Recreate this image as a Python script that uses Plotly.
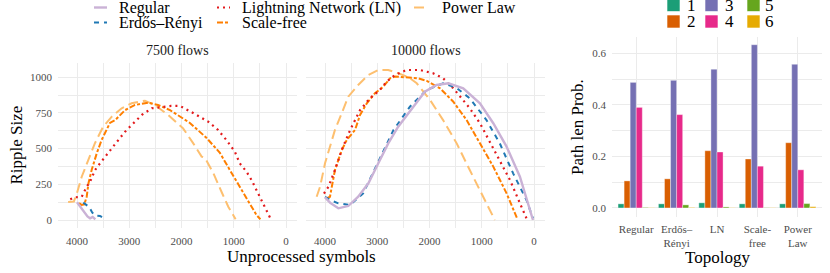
import plotly.graph_objects as go

FONT = "Liberation Serif, Tinos, Times New Roman, Times, serif"
W, H = 830, 273


def px(x):
    return x / W


def py(y):
    return 1 - y / H


# ---------------- data: ripple size vs unprocessed symbols ----------------
topologies = ["Regular", "Erdős–Rényi", "Lightning Network (LN)", "Scale-free", "Power Law"]
facets = ["7500 flows", "10000 flows"]

# 7500 flows
reg_7500_x = [4000, 3950, 3900, 3850, 3800, 3750, 3700, 3650]
reg_7500_y = [125, 100, 75, 47, 25, 12, 22, 5]
er_7500_x = [3880, 3820, 3770, 3720, 3680, 3620, 3560, 3500, 3460]
er_7500_y = [122, 105, 92, 60, 38, 30, 28, 15, 8]
ln_7500_x = [4130, 4040, 3910, 3815, 3750, 3655, 3560, 3465, 3335, 3210, 3080, 2920, 2760, 2570,
             2315, 2200, 2030, 1900, 1710, 1490, 1300, 1140, 980, 885, 755, 660, 550, 435, 340, 300]
ln_7500_y = [145, 159, 163, 233, 268, 350, 397, 444, 502, 560, 619, 678, 736, 783,
             794, 799, 799, 771, 736, 689, 631, 560, 479, 397, 338, 280, 198, 117, 47, 12]
sf_7500_x = [3960, 3910, 3860, 3815, 3780, 3720, 3620, 3530, 3370, 3270, 3080, 2890, 2640, 2450,
             2220, 2050, 1840, 1520, 1265, 1075, 850, 660, 565, 490]
sf_7500_y = [119, 105, 110, 163, 259, 350, 470, 560, 680, 700, 770, 806, 822, 806,
             770, 730, 680, 575, 470, 350, 210, 93, 35, 5]
pl_7500_x = [4170, 4060, 4000, 3910, 3785, 3655, 3500, 3335, 3145, 2955, 2700, 2510, 2255, 1970,
             1775, 1615, 1550, 1390, 1235, 1105, 965]
pl_7500_y = [126, 130, 190, 303, 420, 540, 654, 724, 783, 818, 836, 806, 736, 642,
             537, 444, 435, 327, 198, 93, 5]

# 10000 flows
reg_10000_x = [4000, 3900, 3745, 3555, 3365, 3170, 2980, 2790, 2600, 2410, 2215, 2090, 1865, 1640,
               1355, 1035, 780, 525, 270, 20]
reg_10000_y = [159, 120, 82, 98, 163, 257, 397, 537, 654, 748, 841, 899, 946, 958,
               923, 818, 678, 514, 303, 0]
er_10000_x = [4000, 3900, 3745, 3520, 3270, 3010, 2690, 2375, 2055, 1740, 1500, 1230, 910, 655,
              400, 145, 20]
er_10000_y = [163, 140, 117, 105, 187, 385, 630, 794, 911, 958, 930, 853, 700, 537,
              327, 140, 12]
ln_10000_x = [4020, 3935, 3810, 3680, 3520, 3330, 3140, 2950, 2820, 2660, 2440, 2185, 1930, 1740,
              1545, 1230, 1035, 845, 655, 460, 270, 145]
ln_10000_y = [185, 233, 350, 490, 630, 770, 853, 911, 970, 1016, 1051, 1051, 1028, 993,
              923, 783, 678, 549, 420, 280, 117, 12]
sf_10000_x = [3970, 3905, 3870, 3810, 3680, 3585, 3425, 3330, 3200, 3045, 2885, 2755, 2660, 2470,
              2215, 2055, 1800, 1545, 1290, 1035, 780, 525, 400, 325]
sf_10000_y = [152, 163, 233, 350, 490, 560, 631, 736, 818, 888, 934, 993, 1005, 1000,
              993, 975, 923, 829, 700, 537, 374, 187, 70, 12]
pl_10000_x = [4160, 4095, 4000, 3905, 3810, 3680, 3555, 3365, 3170, 2980, 2790, 2600, 2400, 2245,
              1990, 1740, 1480, 1230, 975, 750]
pl_10000_y = [163, 233, 397, 514, 631, 748, 864, 946, 1016, 1051, 1051, 1028, 1000, 958,
              841, 700, 537, 350, 163, 0]

ripple_x_ticks = [0, 1000, 2000, 3000, 4000]
ripple_y_ticks = [0, 250, 500, 750, 1000]

# ---------------- data: path length probabilities ----------------
bar_categories = ["Regular", "Erdős–Rényi", "LN", "Scale-free", "Power Law"]
bar_tick_labels = ["Regular", "Erdős–<br>Rényi", "LN", "Scale-<br>free", "Power<br>Law"]
path_lengths = ["1", "2", "3", "4", "5", "6"]
prob_len1 = [0.016, 0.016, 0.020, 0.016, 0.016]
prob_len2 = [0.105, 0.113, 0.222, 0.190, 0.253]
prob_len3 = [0.487, 0.495, 0.538, 0.633, 0.557]
prob_len4 = [0.390, 0.362, 0.217, 0.162, 0.148]
prob_len5 = [0.002, 0.012, 0.004, 0.001, 0.017]
prob_len6 = [0.001, 0.002, 0.001, 0.001, 0.005]
bar_y_ticks = [0.0, 0.2, 0.4, 0.6]
bar_y_ticktext = ["0.0", "0.2", "0.4", "0.6"]

# ---------------- styles ----------------
line_styles = {
    "Regular": dict(color="#CAB2D6", dash="solid", width=2.4),
    "Erdős–Rényi": dict(color="#1F78B4", dash="5px,5px", width=2.0),
    "Lightning Network (LN)": dict(color="#E31A1C", dash="2px,4px", width=2.2),
    "Scale-free": dict(color="#FF7F00", dash="6px,2px,3px,2px", width=2.0),
    "Power Law": dict(color="#FDBF6F", dash="10px,5px", width=2.0),
}
bar_colors = ["#1B9E77", "#D95F02", "#7570B3", "#E7298A", "#66A61E", "#E6AB02"]

series = {
    "7500 flows": [(reg_7500_x, reg_7500_y), (er_7500_x, er_7500_y), (ln_7500_x, ln_7500_y),
                   (sf_7500_x, sf_7500_y), (pl_7500_x, pl_7500_y)],
    "10000 flows": [(reg_10000_x, reg_10000_y), (er_10000_x, er_10000_y), (ln_10000_x, ln_10000_y),
                    (sf_10000_x, sf_10000_y), (pl_10000_x, pl_10000_y)],
}

fig = go.Figure()

draw_order = [4, 3, 2, 1, 0]
for fi, facet in enumerate(facets):
    xa = "x" if fi == 0 else "x2"
    ya = "y" if fi == 0 else "y2"
    for ti in draw_order:
        name = topologies[ti]
        xs, ys = series[facet][ti]
        st = line_styles[name]
        fig.add_trace(go.Scatter(
            x=xs, y=ys, mode="lines", name=name, xaxis=xa, yaxis=ya,
            line=dict(color=st["color"], dash=st["dash"], width=st["width"]),
            showlegend=False, hoverinfo="skip"))

probs = [prob_len1, prob_len2, prob_len3, prob_len4, prob_len5, prob_len6]
for i, p in enumerate(probs):
    fig.add_trace(go.Bar(
        x=bar_categories, y=p, name=path_lengths[i], xaxis="x3", yaxis="y3",
        marker=dict(color=bar_colors[i], line=dict(color="rgba(255,255,255,0.6)", width=0.6)),
        showlegend=False, hoverinfo="skip"))

GRID = "#EBEBEB"
TICKFONT = dict(family=FONT, size=11, color="#4D4D4D")

common_x = dict(
    range=[4364, -210], tickmode="array", tickvals=ripple_x_ticks,
    showgrid=True, gridcolor=GRID, gridwidth=1.3, zeroline=False, showline=False,
    ticks="", tickfont=TICKFONT, ticklabelstandoff=5,
    minor=dict(tickmode="array", tickvals=[500, 1500, 2500, 3500], showgrid=True,
               gridcolor=GRID, gridwidth=0.7, ticks=""),
)
common_y = dict(
    range=[-56, 1100], tickmode="array", tickvals=ripple_y_ticks,
    showgrid=True, gridcolor=GRID, gridwidth=1.3, zeroline=False, showline=False,
    ticks="", tickfont=TICKFONT, ticklabelstandoff=5,
    domain=[py(228), py(63)],
    minor=dict(tickmode="array", tickvals=[125, 375, 625, 875], showgrid=True,
               gridcolor=GRID, gridwidth=0.7, ticks=""),
)

fig.update_layout(
    width=W, height=H,
    margin=dict(l=0, r=0, t=0, b=0),
    paper_bgcolor="white", plot_bgcolor="white",
    font=dict(family=FONT, color="black"),
    barmode="group", bargap=0.1, bargroupgap=0.0,
    xaxis=dict(domain=[px(58), px(297)], anchor="y", **common_x),
    xaxis2=dict(domain=[px(306), px(545)], anchor="y2", **common_x),
    yaxis=dict(anchor="x", **common_y),
    yaxis2=dict(anchor="x2", showticklabels=False, **common_y),
    xaxis3=dict(domain=[px(612), px(822)], anchor="y3", type="category",
                categoryorder="array", categoryarray=bar_categories,
                range=[-0.6, 4.6], tickmode="array", tickvals=bar_categories,
                ticktext=bar_tick_labels, showgrid=True, gridcolor=GRID, gridwidth=1.3,
                zeroline=False, showline=False, ticks="", tickfont=TICKFONT,
                ticklabelstandoff=4),
    yaxis3=dict(domain=[py(217), py(37)], anchor="x3", range=[-0.035, 0.663],
                tickmode="array", tickvals=bar_y_ticks, ticktext=bar_y_ticktext,
                showgrid=True, gridcolor=GRID, gridwidth=1.3, zeroline=False,
                showline=False, ticks="", tickfont=TICKFONT, ticklabelstandoff=5,
                minor=dict(tickmode="array", tickvals=[0.1, 0.3, 0.5], showgrid=True,
                           gridcolor=GRID, gridwidth=0.7, ticks="")),
)

ann = []


def text(x, y, s, size, color="black", xanchor="center", yanchor="middle", angle=0):
    ann.append(dict(x=px(x), y=py(y), xref="paper", yref="paper", text=s, showarrow=False,
                    xanchor=xanchor, yanchor=yanchor, textangle=angle,
                    font=dict(family=FONT, size=size, color=color)))


# facet titles
text(177.5, 50, facets[0], 14, "#1A1A1A")
text(425.5, 50, facets[1], 14, "#1A1A1A")
# axis titles
text(301.5, 256, "Unprocessed symbols", 17)
text(16, 145.5, "Ripple Size", 17, angle=-90)
text(717, 257, "Topology", 17)
text(577, 127, "Path len Prob.", 17, angle=-90)

# line legend (manual, column-major like ggplot)
shapes = []
leg_cols = [(94, 117), (217, 240), (414, 440)]
leg_rows = [7.5, 22.5]
for ti, name in enumerate(topologies):
    c, r = divmod(ti, 2)
    kx, tx = leg_cols[c]
    yy = leg_rows[r]
    st = line_styles[name]
    shapes.append(dict(type="line", xref="paper", yref="paper",
                       x0=px(kx), x1=px(kx + 13), y0=py(yy), y1=py(yy),
                       line=dict(color=st["color"], dash=st["dash"], width=st["width"])))
    text(tx, yy, name, 16, xanchor="left")

# bar legend
bar_cols = [(667, 685), (705, 723), (747, 763)]
bar_rows = [5, 21.5]
for i, lab in enumerate(path_lengths):
    c, r = divmod(i, 2)
    kx, tx = bar_cols[c]
    yy = bar_rows[r]
    shapes.append(dict(type="rect", xref="paper", yref="paper",
                       x0=px(kx), x1=px(kx + 13), y0=py(yy - 6.5), y1=py(yy + 6.5),
                       fillcolor=bar_colors[i], line=dict(color="white", width=0.6)))
    text(tx, yy, lab, 17, xanchor="left")

fig.update_layout(annotations=ann, shapes=shapes)

fig.write_html(
    "out.html",
    config={"displayModeBar": False},
    post_script="document.body.style.margin='0px';document.body.style.overflow='hidden';",
)
